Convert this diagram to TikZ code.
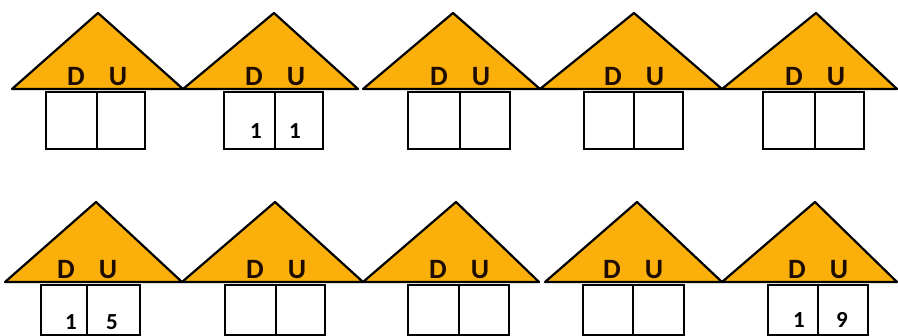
\documentclass[tikz,border=0pt]{standalone}
\usepackage{fontspec}
\setmainfont{Carlito}[BoldFont={Carlito Bold}]
\definecolor{roof}{RGB}{250,175,10}
\definecolor{ink}{RGB}{30,12,0}
\tikzset{
  roofshape/.style={fill=roof,draw=black,line width=2.2pt,line join=round},
  cellbox/.style={draw=black,line width=2pt,fill=white},
  letter/.style={anchor=base,inner sep=0pt,text=ink,font=\bfseries\fontsize{28}{28}\selectfont},
  digit/.style={anchor=base,inner sep=0pt,text=black,font=\bfseries\fontsize{23}{23}\selectfont}
}
% #1 name, #2 left, #3 apex x, #4 right, #5 apex y, #6 base y, #7 box left, #8 divider, #9 box right
\newcommand{\housedraw}[9]{%
  \draw[roofshape] (#2,#6) -- (#3,#5) -- (#4,#6) -- cycle;
  \draw[cellbox] (#7,#6+3) rectangle (#9,\boxbot);
  \draw[cellbox] (#8,#6+3) -- (#8,\boxbot);
  \node[letter] (#1D) at (#8-21,#6-3) {D};
  \node[letter] (#1U) at (#8+21,#6-3) {U};
}
\begin{document}
\begin{tikzpicture}[x=1pt,y=-1pt]
\useasboundingbox (0,0) rectangle (898,336);
\fill[white] (0,0) rectangle (898,336);
% row 1
\def\boxbot{149}
\housedraw{a}{12}{98}{183}{13}{89}{46}{97}{145}
\housedraw{b}{183}{274}{358}{13}{89}{224}{275}{323}
\housedraw{c}{363}{453}{540}{13}{89}{408}{460}{510}
\housedraw{d}{540}{634}{722}{13}{89}{584}{634}{683}
\housedraw{e}{722}{816}{897}{13}{89}{763}{815}{864}
% row 2
\def\boxbot{335}
\housedraw{f}{5}{96}{182}{202}{282}{41}{87}{140}
\housedraw{g}{182}{275}{363}{202}{282}{225}{276}{325}
\housedraw{h}{363}{456}{539}{202}{282}{408}{459}{509}
\housedraw{i}{545}{637}{722}{202}{282}{583}{633}{684}
\housedraw{j}{722}{815}{897}{202}{282}{768}{818}{868}
% digits
\node[digit] (b1) at (256,139) {1};
\node[digit] (b2) at (295,139) {1};
\node[digit] (f1) at (71,330) {1};
\node[digit] (f2) at (112,330) {5};
\node[digit] (j1) at (799,328) {1};
\node[digit] (j2) at (842,328) {9};
\end{tikzpicture}
\end{document}
